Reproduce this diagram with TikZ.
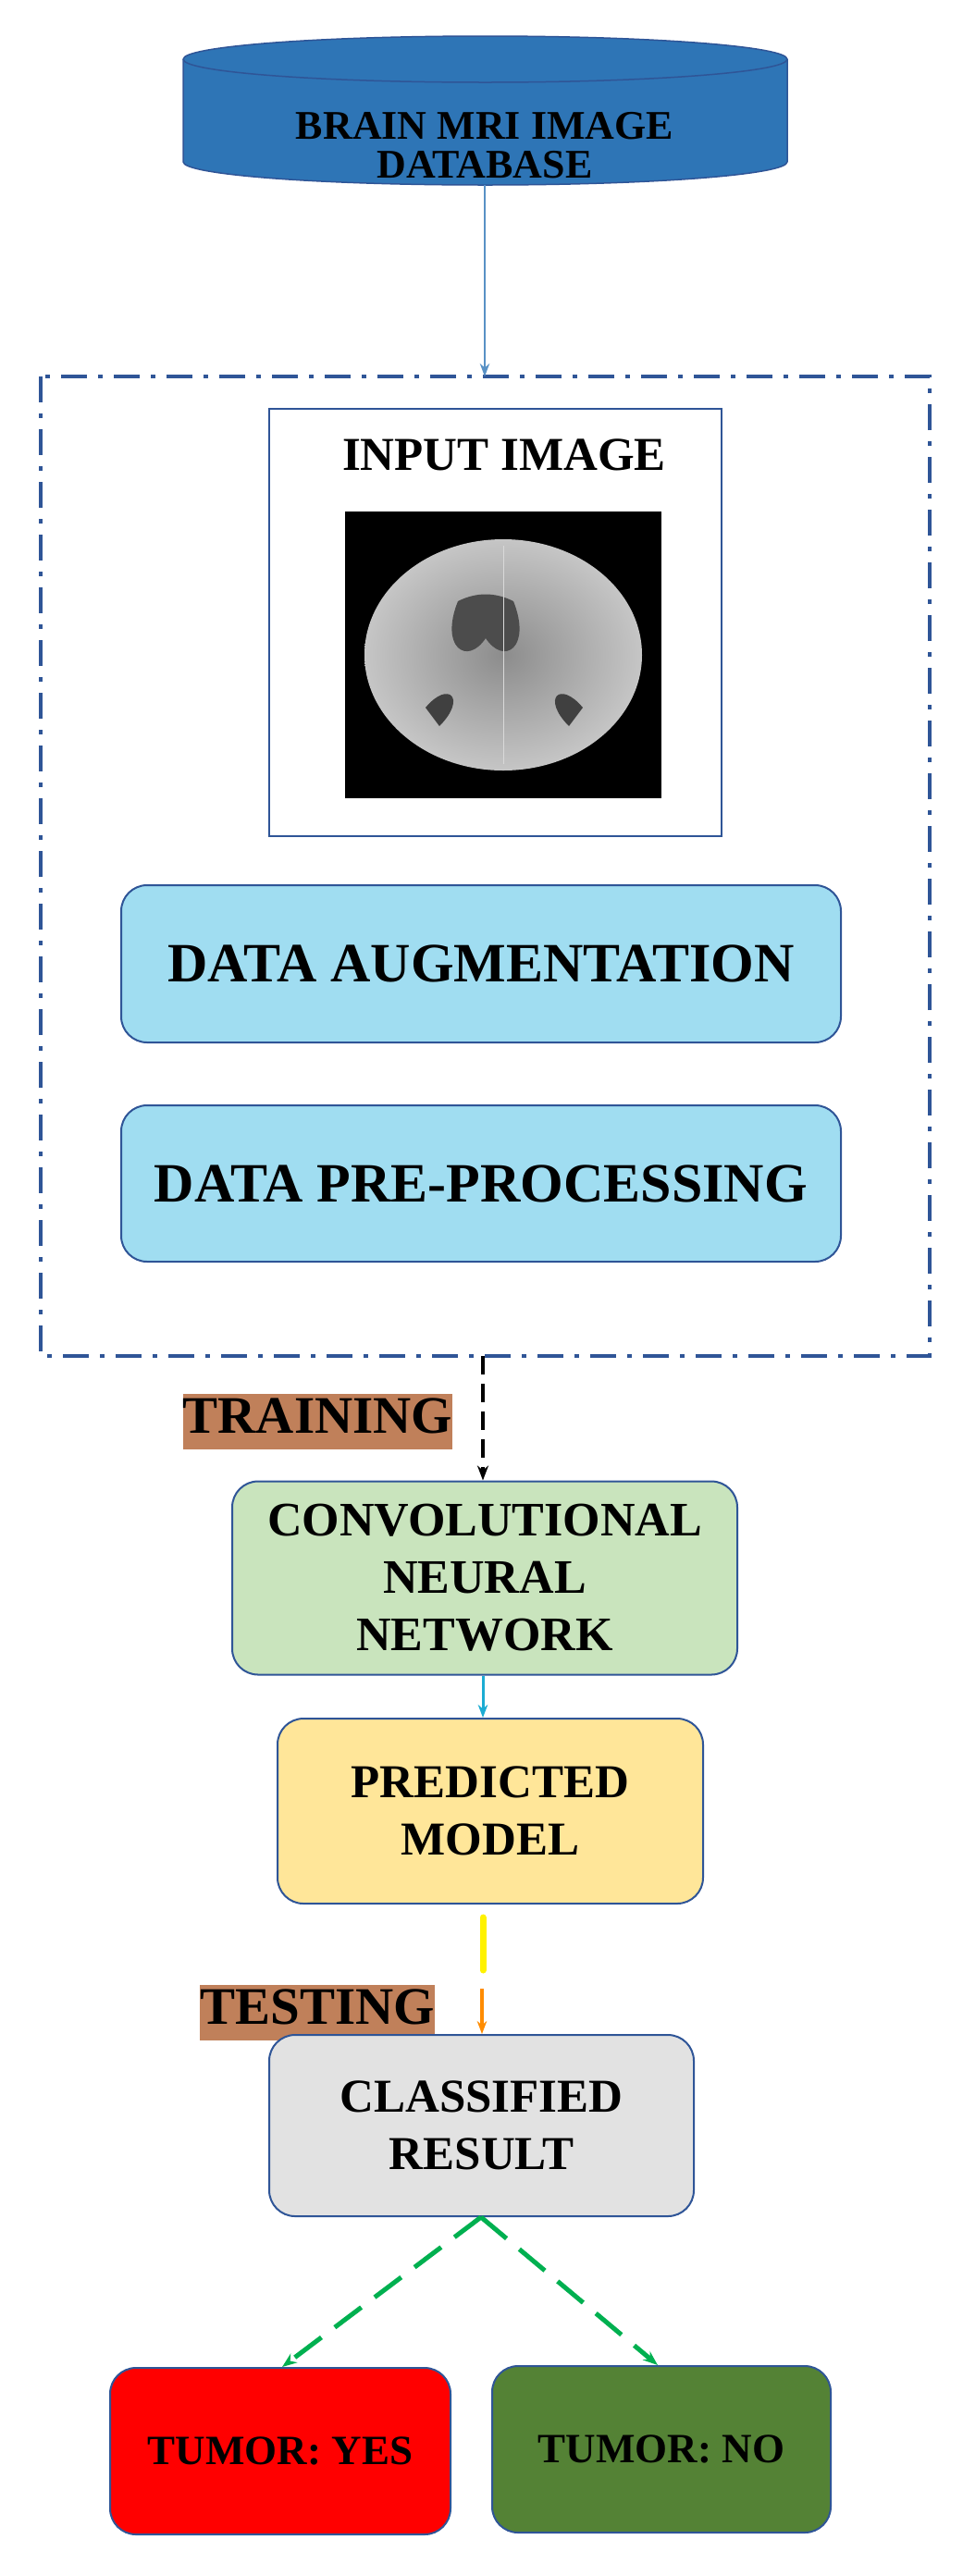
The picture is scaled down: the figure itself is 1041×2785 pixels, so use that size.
\documentclass[tikz,border=0pt]{standalone}
\usepackage{fontspec}
\setmainfont{Liberation Serif}
\usetikzlibrary{arrows.meta}
\definecolor{cyl}{HTML}{2E75B6}
\definecolor{cylb}{HTML}{2F5597}
\definecolor{frm}{HTML}{2F5597}
\definecolor{lb}{HTML}{A0DDF1}
\definecolor{gr}{HTML}{C9E4BD}
\definecolor{yl}{HTML}{FFE699}
\definecolor{gy}{HTML}{E2E2E2}
\definecolor{dg}{HTML}{548235}
\definecolor{br}{HTML}{C0805A}
\definecolor{gg}{HTML}{00B050}
\tikzset{
 box/.style={draw=cylb,line width=2pt,rounded corners=28pt,align=center,font=\bfseries\fontsize{51}{62}\selectfont},
 lab/.style={fill=br,inner sep=0pt,font=\bfseries\fontsize{57}{60}\selectfont},
}
\begin{document}
\begin{tikzpicture}[x=1pt,y=-1pt]
\useasboundingbox (0,0) rectangle (1041,2785);
% cylinder
\fill[cyl,draw=cylb,line width=1.5pt] (198,64) -- (198,175) arc[start angle=180,end angle=0,x radius=326.5,y radius=25] -- (851,64) arc[start angle=0,end angle=-180,x radius=326.5,y radius=25];
\draw[cylb,line width=1.5pt] (198,64) arc[start angle=180,end angle=0,x radius=326.5,y radius=25];
\node[align=center,font=\bfseries\fontsize{44}{42}\selectfont] (db) at (524,157) {BRAIN MRI IMAGE\\DATABASE};
\coordinate (dbb) at (524,200);
% frame
\draw[frm,line width=4pt,dash pattern=on 28pt off 12pt on 5pt off 12pt] (44,407) rectangle (1005,1466);
\coordinate (ft) at (524,407);
\coordinate (fb) at (522,1466);
\draw[-{Stealth[length=14pt]},color=cyl!80,line width=1.5pt] (dbb) -- (ft);
% input image
\node[draw=cylb,line width=2pt,minimum width=489pt,minimum height=462pt] (in) at (535.5,673) {};
\node[font=\bfseries\fontsize{51}{55}\selectfont] (it) at (545,492) {INPUT IMAGE};
\fill[black] (373,553) rectangle (715,863);
\shade[inner color=gray!90,outer color=gray!45] (544,708) ellipse[x radius=150,y radius=125];
\fill[black!70] (495,650) .. controls (475,700) and (505,720) .. (525,690) .. controls (545,720) and (575,700) .. (555,650) .. controls (535,640) and (515,640) .. (495,650);
\fill[black!75] (460,765) .. controls (485,735) and (505,755) .. (475,785) -- cycle;
\fill[black!75] (630,765) .. controls (605,735) and (585,755) .. (615,785) -- cycle;
\draw[gray!30,line width=1pt] (544,590) -- (544,826);
% boxes
\node[box,fill=lb,minimum width=778pt,minimum height=170pt,font=\bfseries\fontsize{60}{64}\selectfont] (aug) at (520,1042) {DATA AUGMENTATION};
\node[box,fill=lb,minimum width=778pt,minimum height=169pt,font=\bfseries\fontsize{60}{64}\selectfont] (pre) at (520,1279.5) {DATA PRE-PROCESSING};
\node[lab] (tr) at (343.5,1537) {\strut TRAINING};
\node[box,fill=gr,minimum width=546pt,minimum height=209pt,font=\bfseries\fontsize{52}{62}\selectfont] (cnn) at (524,1706) {CONVOLUTIONAL\\NEURAL\\NETWORK};
\draw[-{Stealth[length=16pt]},black,line width=4pt,dash pattern=on 20pt off 10pt] (fb) -- (cnn.north -| fb);
\node[box,fill=yl,minimum width=460pt,minimum height=200pt] (pm) at (530,1958) {PREDICTED\\MODEL};
\draw[-{Stealth[length=14pt]},color=cyl!60!cyan,line width=3pt] (cnn.south -| fb) -- (pm.north -| fb);
\node[lab] (ts) at (343,2176) {\strut TESTING};
\node[box,fill=gy,minimum width=459pt,minimum height=196pt] (cr) at (520.5,2298) {CLASSIFIED\\RESULT};
\coordinate (y1) at (522,2073);
\coordinate (y2) at (522,2130);
\draw[yellow,line width=7pt,line cap=round] (y1) -- (y2);
\draw[-{Stealth[length=14pt]},orange!90!yellow,line width=4pt] (521,2150) -- (cr.north -| 521,0);
\node[box,fill=red,minimum width=368pt,minimum height=180pt,font=\bfseries\fontsize{45}{50}\selectfont] (yes) at (303,2650) {TUMOR: YES};
\node[box,fill=dg,minimum width=366pt,minimum height=180pt,font=\bfseries\fontsize{45}{50}\selectfont] (no) at (715,2648) {TUMOR: NO};
\coordinate (cb) at (520,2397);
\draw[-{Stealth[length=16pt]},gg,line width=5pt,dash pattern=on 36pt off 18pt] (cb) -- (yes.north -| 305,0);
\draw[-{Stealth[length=16pt]},gg,line width=5pt,dash pattern=on 36pt off 18pt] (cb) -- (no.north -| 711,0);
\end{tikzpicture}
\end{document}
